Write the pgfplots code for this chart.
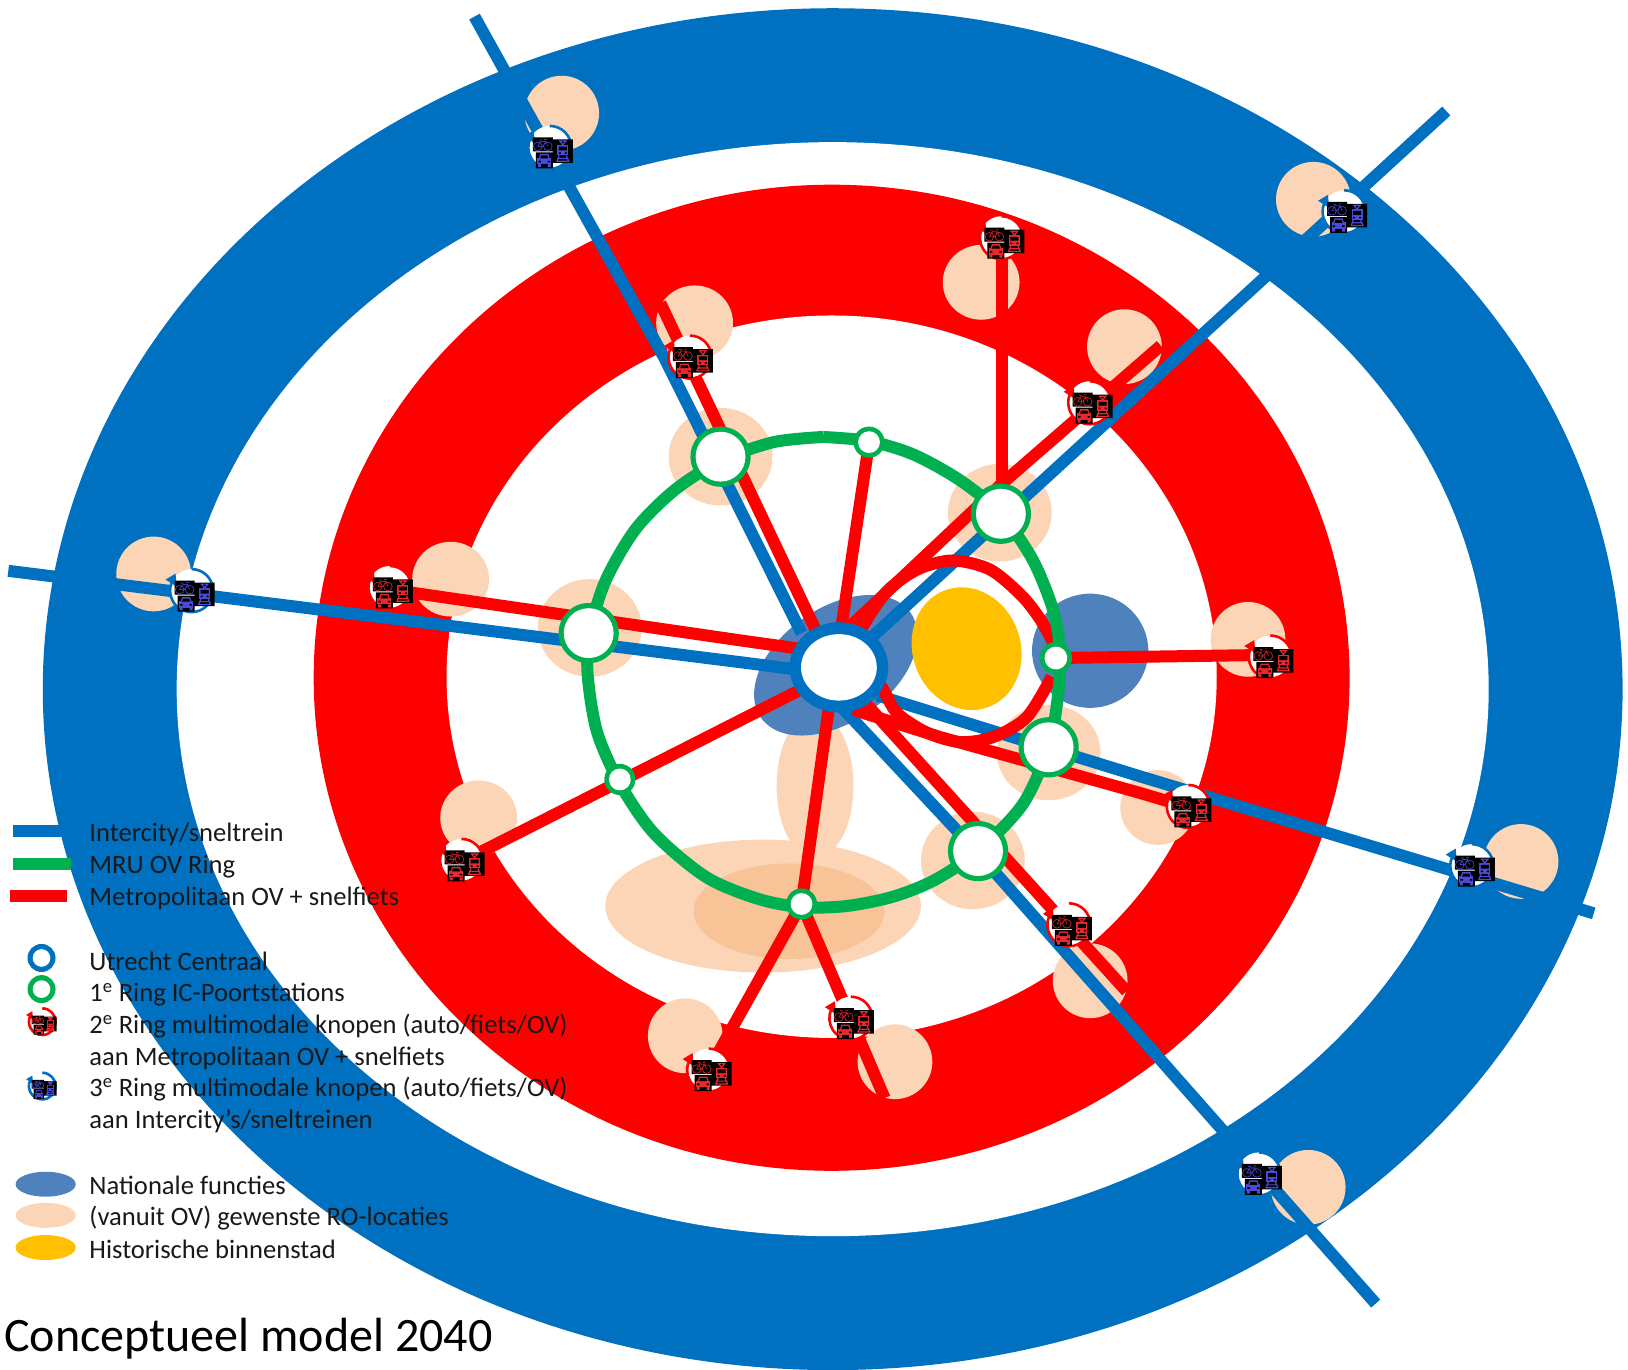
\documentclass[border=0pt]{standalone}
\usepackage{fontspec}
\setmainfont{Carlito}
\usepackage{pgfplots}
\pgfplotsset{compat=1.18}
\usetikzlibrary{plotmarks}

\definecolor{ringblue}{HTML}{0070C0}
\definecolor{ringred}{HTML}{FF0000}
\definecolor{mrugreen}{HTML}{00B050}
\definecolor{peach}{HTML}{FBD5B5}
\definecolor{peachdark}{HTML}{F8C397}
\definecolor{natblue}{HTML}{4F81BD}
\definecolor{histyellow}{HTML}{FFC000}
\definecolor{iconred}{HTML}{E8282C}
\definecolor{iconblue}{HTML}{4A4AD8}

% filled ellipse mark: only fill, so the scaling never touches a stroke
\pgfdeclareplotmark{ell}{\pgfpathcircle{\pgfpointorigin}{\pgfplotmarksize}\pgfusepathqfill}

\newcommand\PP[2]{\pgfqpoint{#1pt}{#2pt}}
\newcommand\RR[4]{\pgfpathrectangle{\PP{#1}{#2}}{\PP{#3}{#4}}}
\newcommand\LL[4]{\pgfpathmoveto{\PP{#1}{#2}}\pgfpathlineto{\PP{#3}{#4}}}
% bike, tram and car on their black tiles
\newcommand\iconbody[1]{%
  \pgftransformshift{\PP{2.5}{0}}%
  \pgfsetfillcolor{black}%
  \RR{-20}{-3}{20}{14}\RR{0}{-14.5}{20}{23.5}\RR{-17}{-20}{17}{16}\pgfusepathqfill
  \pgfsetstrokecolor{#1!80!black}\pgfsetlinewidth{.8pt}%
  \pgfpathcircle{\PP{-15}{2}}{4.3pt}\pgfpathcircle{\PP{-5}{2}}{4.3pt}%
  \LL{-15}{2}{-12}{7}\pgfpathlineto{\PP{-7}{7}}\pgfpathlineto{\PP{-10}{2}}\pgfpathlineto{\PP{-15}{2}}%
  \LL{-7}{7}{-5}{2}\LL{-8.5}{9}{-6}{9}\LL{-14}{8.5}{-11}{8.5}\pgfusepathqstroke
  \pgfsetfillcolor{#1}\pgfsetstrokecolor{#1}\pgfsetlinewidth{1.2pt}%
  \RR{4.5}{-7}{11}{10.5}\pgfusepathqfill
  \LL{6}{7.5}{14}{7.5}\LL{7}{7.5}{10}{3.5}\LL{13}{7.5}{10}{3.5}%
  \LL{6.5}{-7}{4}{-13}\LL{13.5}{-7}{16}{-13}\LL{4.5}{-10}{15.5}{-10}\LL{3.5}{-12.8}{16.5}{-12.8}\pgfusepathqstroke
  \RR{-15.5}{-16}{14}{6.5}\pgfusepathqfill
  \pgfpathmoveto{\PP{-14}{-10}}\pgfpathlineto{\PP{-12.5}{-5.5}}\pgfpathlineto{\PP{-4.5}{-5.5}}\pgfpathlineto{\PP{-3}{-10}}\pgfpathclose
  \RR{-15}{-18.8}{3}{3}\RR{-5}{-18.8}{3}{3}\pgfusepathqfill
  \pgfsetfillcolor{black}%
  \RR{6}{-2}{8}{3.8}\RR{6}{-5.5}{2}{1.5}\RR{12}{-5.5}{2}{1.5}\pgfusepathqfill
  \pgfpathmoveto{\PP{-12.6}{-10}}\pgfpathlineto{\PP{-11.6}{-7}}\pgfpathlineto{\PP{-5.4}{-7}}\pgfpathlineto{\PP{-4.4}{-10}}\pgfpathclose
  \RR{-14.5}{-14}{2.5}{1.5}\RR{-5}{-14}{2.5}{1.5}\pgfusepathqfill
}
% white disc, arc and arrow head behind a knoop
\newcommand\arcbody[1]{%
  \pgftransformshift{\PP{2.5}{0}}%
  \pgfsetfillcolor{white}\pgfpathcircle{\PP{-3}{1}}{21.5pt}\pgfusepathqfill
  \pgfsetstrokecolor{#1}\pgfsetfillcolor{#1}\pgfsetlinewidth{2.6pt}%
  \pgfpathmoveto{\PP{-3}{22.5}}%
  \pgfpatharc{90}{-205}{21.5pt}\pgfusepathqstroke
  \pgfpathmoveto{\PP{-29}{12}}%
  \pgfpathlineto{\PP{-19}{18}}%
  \pgfpathlineto{\PP{-18}{5}}%
  \pgfpathclose\pgfusepathqfill
}
\pgfdeclareplotmark{iconred}{\iconbody{iconred}}
\pgfdeclareplotmark{iconblue}{\iconbody{iconblue}}
\pgfdeclareplotmark{arcred}{\arcbody{ringred}}
\pgfdeclareplotmark{arcblue}{\arcbody{ringblue}}

\newcommand\el[6]{\addplot[only marks,mark=ell,mark size=1.038pt,
  mark options={rotate=#5,xscale=#3,yscale=#4,fill=#6}] coordinates {(#1,#2)};}
\newcommand\seg[2]{\addplot[color=#1,line width=12pt,mark=none] coordinates {#2};}
\newcommand\knop[3]{%
  \addplot[only marks,mark=arc#3] coordinates {(#1,#2)};%
  \addplot[only marks,mark=icon#3] coordinates {(#1,#2)};}
\newcommand\ltext[2]{\node[anchor=west,inner sep=0pt,font=\fontsize{26.6}{26.6}\selectfont,text=black!90] at (axis cs:86,#1) {#2};}

\begin{document}
\begin{tikzpicture}
\useasboundingbox (0,0) rectangle (1628pt,1370pt);
\begin{axis}[
    at={(0,0)},anchor=south west,
    scale only axis,width=1628pt,height=1370pt,
    xmin=0,xmax=1568,ymin=0,ymax=1320,y dir=reverse,
    hide axis,clip marker paths=true]

% rings
\el{802}{664}{761}{656}{0}{ringblue}
\el{802}{664}{632}{527}{0}{white}
\el{801}{653}{499}{475}{0}{ringred}
\el{801}{652}{371}{348}{0}{white}

% locations around the rings
\el{541}{109}{36}{36}{0}{peach}
\el{1265}{192}{36}{36}{0}{peach}
\el{945}{272}{37}{36}{0}{peach}
\el{1083}{334}{36}{36}{0}{peach}
\el{669}{311}{37}{36}{0}{peach}
\el{434}{558}{37}{36}{0}{peach}
\el{148}{553}{36}{36}{0}{peach}
\el{1202}{616}{36}{36}{0}{peach}
\el{1465}{830}{36}{36}{0}{peach}
\el{1115}{778}{36}{36}{0}{peach}
\el{461}{788}{37}{36}{0}{peach}
\el{1050}{945}{36}{36}{0}{peach}
\el{660}{998}{36}{36}{0}{peach}
\el{862}{1023}{36}{36}{0}{peach}
\el{1260}{1144}{36}{36}{0}{peach}
\el{694}{440}{50}{47}{0}{peach}
\el{963}{494}{50}{47}{0}{peach}
\el{568}{605}{50}{47}{0}{peach}
\el{1010}{725}{50}{46}{0}{peach}
\el{937}{829}{50}{47}{0}{peach}
\el{785}{757}{37}{70}{0}{peach}
\el{735}{873}{152}{64}{0}{peach}
\el{760}{878}{92}{46}{0}{peachdark}

% centre
\el{805}{641}{88}{55}{35}{natblue}
\el{1050}{627}{56}{55}{0}{natblue}
\el{931}{625}{52}{60}{20}{histyellow}

% intercity
\seg{ringblue}{(457,16) (640,345) (772,610)}
\seg{ringblue}{(1393,107) (808,643)}
\seg{ringblue}{(8,550) (185,572) (713,638) (790,648)}
\seg{ringblue}{(1535,880) (1098,748) (845,670)}
\seg{ringblue}{(1325,1256) (942,822) (800,670)}

% metropolitaan
\seg{ringred}{(636,292) (787,610)}
\seg{ringred}{(965,230) (965,490)}
\seg{ringred}{(1118,333) (965,466) (812,610)}
\seg{ringred}{(837,427) (805,640)}
\seg{ringred}{(376,568) (713,617) (770,625)}
\seg{ringred}{(1017,634) (1222,631)}
\seg{ringred}{(1145,778) (1098,764) (905,710) (822,684)}
\seg{ringred}{(1085,955) (825,668)}
\seg{ringred}{(445,830) (780,660)}
\seg{ringred}{(772,871) (800,670)}
\seg{ringred}{(772,871) (683,1030)}
\seg{ringred}{(772,871) (852,1058)}
\addplot[color=ringred,line width=12pt,mark=none,smooth] coordinates {
  (822,620) (838,592) (857,567) (885,548) (918,540) (954,549) (985,575) (1004,600) (1017,625)};
\addplot[color=ringred,line width=12pt,mark=none,smooth] coordinates {
  (1013,652) (989,691) (957,710) (925,715) (893,706) (864,687) (850,663) (838,648)};

% MRU ring
\addplot[color=mrugreen,line width=12pt,mark=none,smooth] coordinates {
  (793,421) (837,425) (880,438) (925,463) (964,495) (995,540) (1015,590) (1021,630)
  (1019,670) (1010,720) (985,775) (942,820) (900,848) (860,864) (815,873) (772,874)
  (730,866) (680,845) (630,803) (597,755) (575,705) (566,650) (568,610) (583,560)
  (612,510) (650,472) (694,444) (745,426) (793,421)};

% stations
\el{808}{643}{47.5}{43.5}{0}{ringblue}
\el{808}{643}{36.5}{32}{0}{white}
\el{694}{440}{29}{29}{0}{mrugreen}\el{694}{440}{24}{24}{0}{white}
\el{964}{495}{29}{29}{0}{mrugreen}\el{964}{495}{24}{24}{0}{white}
\el{567}{610}{29}{29}{0}{mrugreen}\el{567}{610}{24}{24}{0}{white}
\el{1010}{720}{29}{29}{0}{mrugreen}\el{1010}{720}{24}{24}{0}{white}
\el{942}{820}{29}{29}{0}{mrugreen}\el{942}{820}{24}{24}{0}{white}
\el{837}{426}{15}{15}{0}{mrugreen}\el{837}{426}{10.5}{10.5}{0}{white}
\el{1017}{634}{15.5}{15.5}{0}{mrugreen}\el{1017}{634}{11}{11}{0}{white}
\el{597}{751}{15}{15}{0}{mrugreen}\el{597}{751}{10.5}{10.5}{0}{white}
\el{772}{871}{15}{15}{0}{mrugreen}\el{772}{871}{10.5}{10.5}{0}{white}

% multimodale knopen
\knop{530}{143}{blue}
\knop{1295}{205}{blue}
\knop{185}{570}{blue}
\knop{1418}{835}{blue}
\knop{1213}{1132}{blue}
\knop{965}{230}{red}
\knop{665}{345}{red}
\knop{1050}{389}{red}
\knop{376}{567}{red}
\knop{1224}{634}{red}
\knop{1145}{778}{red}
\knop{445}{830}{red}
\knop{1030}{892}{red}
\knop{683}{1032}{red}
\knop{820}{982}{red}

% legend
\seg{ringblue}{(13,801) (61,801)}
\seg{mrugreen}{(13,832) (68,832)}
\seg{ringred}{(10,863) (65,863)}
\el{40}{923}{13.5}{13.5}{0}{ringblue}\el{40}{923}{8.5}{8.5}{0}{white}
\el{40}{953}{13.5}{13.5}{0}{mrugreen}\el{40}{953}{8.5}{8.5}{0}{white}
\addplot[only marks,mark=arcred,mark options={scale=.62}] coordinates {(41,985)};
\addplot[only marks,mark=iconred,mark options={scale=.62}] coordinates {(41,985)};
\addplot[only marks,mark=arcblue,mark options={scale=.62}] coordinates {(41,1047)};
\addplot[only marks,mark=iconblue,mark options={scale=.62}] coordinates {(41,1047)};
\el{44}{1141}{29}{12}{0}{natblue}
\el{44}{1171}{29}{12}{0}{peach}
\el{44}{1202}{29}{12}{0}{histyellow}

\ltext{804}{Intercity/sneltrein}
\ltext{835}{MRU OV Ring}
\ltext{866}{Metropolitaan OV + snelfiets}
\ltext{926}{Utrecht Centraal}
\ltext{958}{1\textsuperscript{e} Ring IC-Poortstations}
\ltext{989}{2\textsuperscript{e} Ring multimodale knopen (auto/fiets/OV)}
\ltext{1020}{aan Metropolitaan OV + snelfiets}
\ltext{1049}{3\textsuperscript{e} Ring multimodale knopen (auto/fiets/OV)}
\ltext{1080}{aan Intercity’s/sneltreinen}
\ltext{1142}{Nationale functies}
\ltext{1174}{(vanuit OV) gewenste RO-locaties}
\ltext{1204}{Historische binnenstad}
\node[anchor=west,inner sep=0pt,font=\fontsize{48}{48}\selectfont] at (axis cs:4,1290) {Conceptueel model 2040};
\end{axis}
\end{tikzpicture}
\end{document}
